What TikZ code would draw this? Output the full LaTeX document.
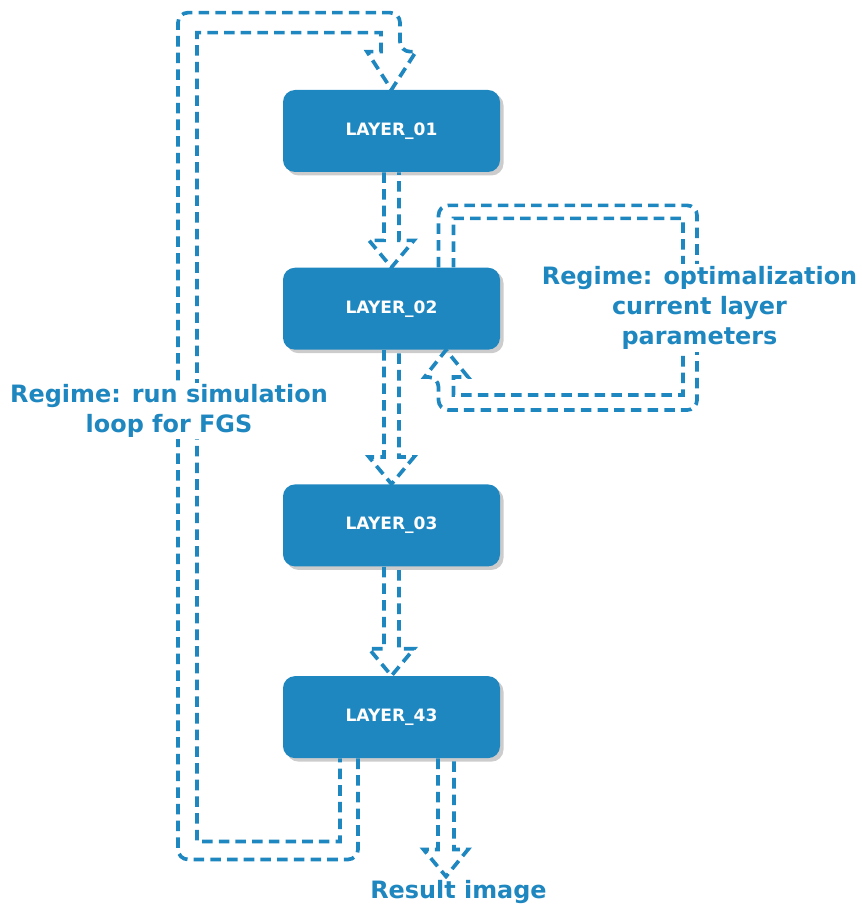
\documentclass[tikz,border=0pt]{standalone}
\usepackage{fontspec}
\setmainfont{DejaVu Sans}
\usetikzlibrary{
    positioning,
    calc,
    shadows
}
\definecolor{layerblue}{RGB}{31,135,192}

\begin{document}
\begin{tikzpicture}[
    layer/.style={rectangle, rounded corners=0.24cm, fill=layerblue,
                  minimum width=4.34cm, minimum height=1.64cm,
                  text=white, font=\bfseries\fontsize{9.7}{11}\selectfont,
                  drop shadow={shadow xshift=0.07cm, shadow yshift=-0.07cm,
                               fill=black!40}},
    hollow/.style={draw=layerblue, line width=2.1pt,
                   dash pattern=on 6pt off 3.5pt},
    lab/.style={text=layerblue, fill=white, align=center, inner sep=1pt,
                font=\bfseries\fontsize{13.6}{17.2}\selectfont}
]
\useasboundingbox (0,0) rectangle (17.22,-18.08);

% =========================
% 1) LAYER STACK
% =========================
\node[layer] (L1) at (7.83,-2.62)  {LAYER\_01};
\node[layer, below=1.9cm of L1]  (L2)  {LAYER\_02};
\node[layer, below=2.68cm of L2] (L3)  {LAYER\_03};
\node[layer, below=2.18cm of L3] (L43) {LAYER\_43};

\coordinate (restip) at ($(L43.south)+(1.09,-2.36)$);

% =========================
% 2) HOLLOW DASHED ARROWS DOWN
% =========================
\draw[hollow] ($(L1.south)+(-0.15,0)$) -- ($(L2.north)+(-0.15,0.54)$)
    -- ($(L2.north)+(-0.45,0.54)$) -- (L2.north)
    -- ($(L2.north)+(0.45,0.54)$) -- ($(L2.north)+(0.15,0.54)$)
    -- ($(L1.south)+(0.15,0)$);
\draw[hollow] ($(L2.south)+(-0.15,0)$) -- ($(L3.north)+(-0.15,0.54)$)
    -- ($(L3.north)+(-0.45,0.54)$) -- (L3.north)
    -- ($(L3.north)+(0.45,0.54)$) -- ($(L3.north)+(0.15,0.54)$)
    -- ($(L2.south)+(0.15,0)$);
\draw[hollow] ($(L3.south)+(-0.15,0)$) -- ($(L43.north)+(-0.15,0.54)$)
    -- ($(L43.north)+(-0.45,0.54)$) -- (L43.north)
    -- ($(L43.north)+(0.45,0.54)$) -- ($(L43.north)+(0.15,0.54)$)
    -- ($(L3.south)+(0.15,0)$);
\draw[hollow] ($(L43.south)+(0.93,0)$) -- ($(restip)+(-0.16,0.54)$)
    -- ($(restip)+(-0.45,0.54)$) -- (restip)
    -- ($(restip)+(0.44,0.54)$) -- ($(restip)+(0.16,0.54)$)
    -- ($(L43.south)+(1.25,0)$);

% =========================
% 3) LOOPS
% =========================
% optimisation loop on LAYER_02
\draw[hollow] ($(L2.north)+(0.94,0)$) [rounded corners=0.2cm]
    -- ($(L2.north)+(0.94,1.24)$) -- ($(L2.north)+(6.11,1.24)$)
    -- ($(L2.south)+(6.11,-1.2)$) -- ($(L2.south)+(0.94,-1.2)$)
    -- ($(L2.south)+(0.94,-0.54)$) [sharp corners]
    -- ($(L2.south)+(0.66,-0.54)$) -- ($(L2.south)+(1.09,0)$)
    -- ($(L2.south)+(1.53,-0.54)$) -- ($(L2.south)+(1.24,-0.54)$)
    -- ($(L2.south)+(1.24,-0.9)$) -- ($(L2.south)+(5.83,-0.9)$)
    -- ($(L2.north)+(5.83,0.98)$) -- ($(L2.north)+(1.24,0.98)$)
    -- ($(L2.north)+(1.24,0)$);

% simulation loop from LAYER_43 back to LAYER_01
\draw[hollow] ($(L43.south)+(-0.67,0)$) [rounded corners=0.2cm]
    -- ($(L43.south)+(-0.67,-2.02)$) -- ($(L43.south)+(-4.27,-2.02)$)
    -- ($(L1.north)+(-4.27,1.54)$) -- ($(L1.north)+(0.17,1.54)$)
    -- ($(L1.north)+(0.17,0.76)$) [sharp corners]
    -- ($(L1.north)+(0.49,0.76)$) -- (L1.north)
    -- ($(L1.north)+(-0.49,0.76)$) -- ($(L1.north)+(-0.21,0.76)$)
    -- ($(L1.north)+(-0.21,1.14)$) -- ($(L1.north)+(-3.89,1.14)$)
    -- ($(L43.south)+(-3.89,-1.66)$) -- ($(L43.south)+(-1.03,-1.66)$)
    -- ($(L43.south)+(-1.03,0)$);

% =========================
% 4) LABELS
% =========================
\node[lab] (optlab) at (13.99,-6.16)
    {Regime: optimalization\\current layer\\parameters};
\node[lab] (simlab) at (3.38,-8.22)
    {Regime: run simulation\\loop for FGS};
\node[lab] (reslab) at (9.17,-17.84) {Result image};

\end{tikzpicture}
\end{document}
